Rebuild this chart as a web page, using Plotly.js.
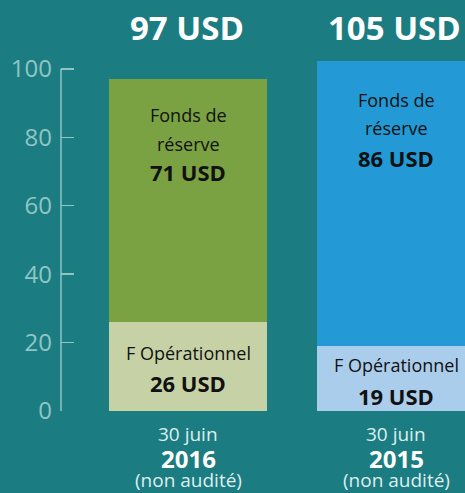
<!DOCTYPE html>
<html>
<head>
<meta charset="utf-8">
<script src="https://cdn.plot.ly/plotly-3.0.1.min.js"></script>
<style>
  html, body { margin: 0; padding: 0; background: #1b7d81; }
  #chart { width: 465px; height: 493px; }
</style>
</head>
<body>
<div id="chart"></div>
<script>
// ---- data ----
const categories = ["2016", "2015"];
const operationnel = [26, 19];
const reserve = [71, 86];
const dateLabel = "30 juin";
const auditLabel = "(non audité)";
const opLabel = "F Opérationnel";
const reserveLabel = ["Fonds de", "réserve"];
const yTicks = [0, 20, 40, 60, 80, 100];

// ---- styles ----
const BG = "#1b7d81";
const AXIS = "#8fc6c4";
const FONT = "Open Sans, Noto Sans, sans-serif";
const opColors = ["#c6d2a5", "#abcdec"];
const resColors = ["#7aa142", "#2399d6"];
const totals = categories.map((c, i) => operationnel[i] + reserve[i]);

const traces = [
  {type: "bar", x: categories, y: operationnel, marker: {color: opColors, line: {width: 0}}, hoverinfo: "skip"},
  {type: "bar", x: categories, y: reserve, marker: {color: resColors, line: {width: 0}}, hoverinfo: "skip"}
];

const ann = [];
const txt = "#111";
// text offsets (pixels) for labels inside each segment, relative to segment top
const resOffsets = [[-36, -65, -93], [-39, -67, -97]];
const resTopClip = [false, true];
const opOffsets = [[-31, -61], [-19, -50]];
categories.forEach((c, i) => {
  const xi = i; // category index position
  ann.push({x: xi, y: 1, xref: "x", yref: "paper", yanchor: "middle", yshift: 34, xshift: i === 0 ? -1 : -2,
    text: "<b>" + totals[i] + " USD</b>", showarrow: false,
    font: {family: FONT, size: 33, color: "#ffffff"}});
  const topY = resTopClip[i] ? 102.3 : totals[i];
  ann.push({x: xi, y: topY, yref: "y", yanchor: "middle", yshift: resOffsets[i][0],
    text: reserveLabel[0], showarrow: false, font: {family: FONT, size: 18, color: txt}});
  ann.push({x: xi, y: topY, yref: "y", yanchor: "middle", yshift: resOffsets[i][1],
    text: reserveLabel[1], showarrow: false, font: {family: FONT, size: 18, color: txt}});
  ann.push({x: xi, y: topY, yref: "y", yanchor: "middle", yshift: resOffsets[i][2],
    text: "<b>" + reserve[i] + " USD</b>", showarrow: false, font: {family: FONT, size: 22, color: txt}});
  ann.push({x: xi, y: operationnel[i], yref: "y", yanchor: "middle", yshift: opOffsets[i][0],
    text: opLabel, showarrow: false, font: {family: FONT, size: 18, color: txt}});
  ann.push({x: xi, y: operationnel[i], yref: "y", yanchor: "middle", yshift: opOffsets[i][1],
    text: "<b>" + operationnel[i] + " USD</b>", showarrow: false, font: {family: FONT, size: 22, color: txt}});
  ann.push({x: xi, y: 0, yref: "paper", yanchor: "middle", yshift: -23,
    text: dateLabel, showarrow: false, font: {family: FONT, size: 19, color: "#dfeeee"}});
  ann.push({x: xi, y: 0, yref: "paper", yanchor: "middle", yshift: -47,
    text: "<b>" + c + "</b>", showarrow: false, font: {family: FONT, size: 24, color: "#ffffff"}});
  ann.push({x: xi, y: 0, yref: "paper", yanchor: "middle", yshift: -69,
    text: auditLabel, showarrow: false, font: {family: FONT, size: 19, color: "#dfeeee"}});
});

const layout = {
  width: 465, height: 493,
  margin: {l: 61, r: 0, t: 61, b: 82, pad: 0},
  paper_bgcolor: BG, plot_bgcolor: BG,
  barmode: "stack", bargap: 0.24,
  showlegend: false,
  xaxis: {type: "category", range: [-0.6106, 1.3317], showticklabels: false, showgrid: false,
          zeroline: false, showline: false, ticks: "", fixedrange: true},
  yaxis: {range: [0, 102.3], tickvals: yTicks, ticks: "inside", ticklen: 13, tickwidth: 1.5,
          tickcolor: AXIS, showgrid: false, zeroline: false, showline: false,
          ticklabelstandoff: 8,
          tickfont: {family: FONT, size: 24, color: AXIS}, fixedrange: true},
  shapes: [{type: "line", xref: "paper", yref: "y", x0: 0, x1: 0, y0: 0, y1: 100,
            line: {color: AXIS, width: 1.5}}],
  annotations: ann
};

Plotly.newPlot("chart", traces, layout, {displayModeBar: false, staticPlot: true});
</script>
</body>
</html>
